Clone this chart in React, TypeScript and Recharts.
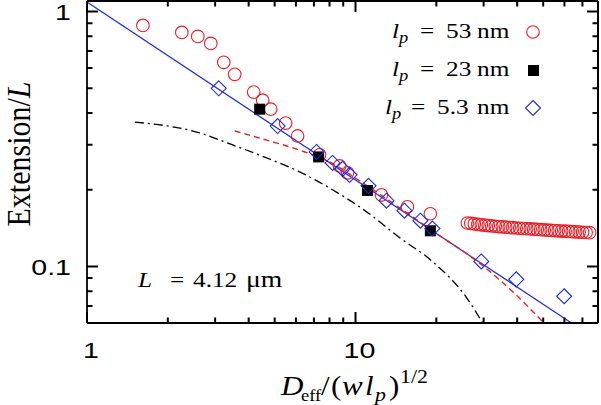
import { ComposedChart, Scatter, Line, XAxis, YAxis, ReferenceLine } from "recharts"

const SERIF = "'Liberation Serif', 'Times New Roman', serif"
const SANS = "'Liberation Sans', Arial, sans-serif"
const RED = "#ec1c24"
const BLUE = "#1d2ae0"
const INK = "#000"

const CHART_W = 601
const CHART_H = 405
const LEFT_W = 87
const RIGHT_W = 3
const BOTTOM_H = 82
const TOP_H = 1
const PLOT_W = CHART_W - LEFT_W - RIGHT_W
const PLOT_H = CHART_H - BOTTOM_H - TOP_H

const xTicks = [1, 2, 3, 4, 5, 6, 7, 8, 9, 10, 20, 30, 40, 50, 60, 70]
const yTicks = [0.07, 0.08, 0.09, 0.1, 0.2, 0.3, 0.4, 0.5, 0.6, 0.7, 0.8, 0.9, 1]
const xMajor = [1, 10]
const yMajor = [0.1, 1]

// l_p = 53 nm (open circles)
const x53 = [
  1.615, 2.255, 2.586, 2.891, 3.231, 3.549, 4.176, 4.511, 4.831, 5.493, 6.086, 7.348, 8.721, 9.338, 12.49, 15.61, 19.0,
  26.09, 26.88, 27.7, 28.54, 29.41, 30.3, 31.22, 32.17, 33.15, 34.16, 35.2, 36.27, 37.37, 38.51, 39.68, 40.89, 42.13,
  43.41, 44.73, 46.09, 47.5, 48.94, 50.43, 51.96, 53.55, 55.17, 56.85, 58.58, 60.36, 62.2, 64.09, 66.04, 68.05, 70.12,
  72.25, 74.45,
]
const y53 = [
  0.882, 0.828, 0.799, 0.75, 0.632, 0.567, 0.483, 0.449, 0.414, 0.365, 0.325, 0.274, 0.248, 0.233, 0.191, 0.1715, 0.161,
  0.1481, 0.1475, 0.1468, 0.1462, 0.1457, 0.1452, 0.1447, 0.1442, 0.1438, 0.1434, 0.143, 0.1426, 0.1422, 0.1419, 0.1415,
  0.1412, 0.1409, 0.1406, 0.1403, 0.14, 0.1397, 0.1394, 0.1391, 0.1388, 0.1385, 0.1383, 0.138, 0.1377, 0.1375, 0.1372,
  0.1369, 0.1367, 0.1364, 0.1362, 0.1359, 0.1357,
]

// l_p = 23 nm (filled squares)
const x23 = [4.396, 7.29, 11.08, 19.0]
const y23 = [0.414, 0.269, 0.1986, 0.138]

// l_p = 5.3 nm (open diamonds)
const x5 = [3.095, 5.129, 7.161, 8.213, 8.948, 9.499, 11.18, 13.04, 15.21, 17.44, 19.33, 29.4, 39.68, 59.84]
const y5 = [0.5, 0.3554, 0.2813, 0.2548, 0.2414, 0.2287, 0.2072, 0.1811, 0.1655, 0.1512, 0.1408, 0.1046, 0.089, 0.0764]

// power law fit (blue)
const fitX = [1, 63.7]
const fitY = [1.09, 0.06]

// red dashed curve
const dashX = [3.549, 4.669, 6.191, 8.006, 10.35, 14.58, 19.33, 29.4, 38.34, 49.57]
const dashY = [0.34, 0.313, 0.286, 0.2572, 0.2168, 0.17, 0.138, 0.1018, 0.0799, 0.061]

// black dash-dot curve
const ddX = [1.508, 2.631, 3.489, 4.669, 6.191, 8.213, 10.99, 14.58, 19.33, 25.86, 29.65]
const ddY = [0.3685, 0.3339, 0.2996, 0.2666, 0.235, 0.1999, 0.164, 0.1298, 0.1046, 0.0757, 0.0604]

const zip = (xs: number[], ys: number[]) => xs.map((x, i) => ({ x, y: ys[i] }))

const d53 = zip(x53, y53)
const d23 = zip(x23, y23)
const d5 = zip(x5, y5)
const dFit = zip(fitX, fitY)
const dDash = zip(dashX, dashY)
const dDD = zip(ddX, ddY)

const X_DOMAIN: [number, number] = [1, 80]
const Y_DOMAIN: [number, number] = [0.06, 1.1]

const Ring = (p: any) => <circle cx={p.cx} cy={p.cy} r={6.3} fill="none" stroke={RED} strokeWidth={1.1} />
const Box = (p: any) => <rect x={p.cx - 5.5} y={p.cy - 5.5} width={11} height={11} fill="#000" />
const Diamond = (p: any) => (
  <path
    d={`M${p.cx},${p.cy - 7.5}L${p.cx + 7.5},${p.cy}L${p.cx},${p.cy + 7.5}L${p.cx - 7.5},${p.cy}Z`}
    fill="none"
    stroke={BLUE}
    strokeWidth={1.1}
  />
)
const Nothing = () => <g />

// gnuplot style: ticks point inward and are mirrored on the opposite side of the frame
const BottomTick = (props: any) => {
  const { x, y, payload } = props
  const major = xMajor.includes(payload.value)
  const len = major ? 11 : 5.5
  const top = y - PLOT_H
  return (
    <g>
      <path d={`M${x},${y}V${y - len}M${x},${top}V${top + len}`} stroke={INK} strokeWidth={2} fill="none" />
      {major && (
        <text
          transform={`translate(${x + 4},${y + 35}) scale(1.3,1)`}
          textAnchor="middle"
          fontFamily={SANS}
          fontSize={22}
          fill="#000"
        >
          {String(payload.value)}
        </text>
      )}
    </g>
  )
}

const LeftTick = (props: any) => {
  const { x, y, payload } = props
  const major = yMajor.includes(payload.value)
  const len = major ? 11 : 5.5
  const right = x + PLOT_W
  return (
    <g>
      <path d={`M${x},${y}H${x + len}M${right},${y}H${right - len}`} stroke={INK} strokeWidth={2} fill="none" />
      {major && (
        <text
          transform={`translate(${x - 16},${y + 8.5}) scale(1.3,1)`}
          textAnchor="end"
          fontFamily={SANS}
          fontSize={22}
          fill="#000"
        >
          {String(payload.value)}
        </text>
      )}
    </g>
  )
}

// stretched serif text, close to the LaTeX look of the original
function T({ x, y, size, it, anchor, children }: any) {
  return (
    <text
      transform={`translate(${x},${y}) scale(1.15,1)`}
      fontFamily={SERIF}
      fontSize={size}
      fontStyle={it ? "italic" : "normal"}
      textAnchor={anchor || "start"}
      fill="#000"
    >
      {children}
    </text>
  )
}

function LegendRow({ y, value, xl, xeq, xnum }: any) {
  return (
    <g>
      <T x={xl} y={y} size={22} it>l</T>
      <T x={xl + 7} y={y + 5} size={16} it>p</T>
      <T x={xeq} y={y} size={22} anchor="middle">=</T>
      <T x={xnum} y={y} size={22}>{value}</T>
      <T x={477} y={y} size={22}>nm</T>
    </g>
  )
}

export default function App() {
  const axisLine = { stroke: INK, strokeWidth: 1.8 }
  const tickLine = { stroke: INK, strokeWidth: 1.7 }
  const common = {
    type: "number" as const,
    scale: "log" as const,
    allowDataOverflow: true,
    interval: 0 as const,
    tickSize: 0,
    tickMargin: 0,
    stroke: INK,
  }
  return (
    <div style={{ position: "absolute", left: 0, top: 0, width: CHART_W, height: CHART_H, background: "#fff" }}>
      <ComposedChart width={CHART_W} height={CHART_H} margin={{ top: 0, right: 0, bottom: 0, left: 0 }}>
        <XAxis xAxisId="b" dataKey="x" domain={X_DOMAIN} ticks={xTicks} height={BOTTOM_H} tick={BottomTick} tickLine={tickLine} axisLine={axisLine} {...common} />
        <XAxis xAxisId="t" orientation="top" dataKey="x" domain={X_DOMAIN} ticks={xMajor} height={TOP_H} tick={false} tickLine={tickLine} axisLine={axisLine} {...common} />
        <YAxis yAxisId="l" dataKey="y" domain={Y_DOMAIN} ticks={yTicks} width={LEFT_W} tick={LeftTick} tickLine={tickLine} axisLine={axisLine} {...common} />
        <YAxis yAxisId="r" orientation="right" dataKey="y" domain={Y_DOMAIN} ticks={yMajor} width={RIGHT_W} tick={false} tickLine={tickLine} axisLine={axisLine} {...common} />

        {/* invisible series that keeps the top/right frame axes alive */}
        <Scatter xAxisId="t" yAxisId="r" data={d5} shape={Nothing} isAnimationActive={false} />

        {/* closing edges of the plot frame */}
        <ReferenceLine xAxisId="b" yAxisId="l" y={Y_DOMAIN[1]} stroke={INK} strokeWidth={1.8} />
        <ReferenceLine xAxisId="b" yAxisId="l" x={X_DOMAIN[1]} stroke={INK} strokeWidth={1.8} />

        <Scatter xAxisId="b" yAxisId="l" data={d53} shape={Ring} isAnimationActive={false} />
        <Scatter xAxisId="b" yAxisId="l" data={d23} shape={Box} isAnimationActive={false} />
        <Scatter xAxisId="b" yAxisId="l" data={d5} shape={Diamond} isAnimationActive={false} />
        <Line xAxisId="b" yAxisId="l" data={dFit} dataKey="y" type="linear" stroke={BLUE} strokeWidth={1.2} dot={false} isAnimationActive={false} />
        <Line xAxisId="b" yAxisId="l" data={dDash} dataKey="y" type="monotone" stroke={RED} strokeWidth={1.4} strokeDasharray="6 4" dot={false} isAnimationActive={false} />
        <Line xAxisId="b" yAxisId="l" data={dDD} dataKey="y" type="monotone" stroke="#000" strokeWidth={1.3} strokeDasharray="9 4 2 4" dot={false} isAnimationActive={false} />
      </ComposedChart>
      <svg width={CHART_W} height={CHART_H} style={{ position: "absolute", left: 0, top: 0, pointerEvents: "none" }}>
        <LegendRow y={38} value="53" xl={392} xeq={427} xnum={446} />
        <LegendRow y={76} value="23" xl={392} xeq={427} xnum={446} />
        <LegendRow y={114} value="5.3" xl={385} xeq={418} xnum={437} />
        <circle cx={533} cy={32} r={6.3} fill="none" stroke={RED} strokeWidth={1.1} />
        <rect x={528} y={65} width={11} height={11} fill="#000" />
        <path d="M533,100.5L540.5,108L533,115.5L525.5,108Z" fill="none" stroke={BLUE} strokeWidth={1.1} />

        <T x={138} y={287} size={22} it>L</T>
        <T x={177} y={287} size={22} anchor="middle">=</T>
        <T x={193} y={287} size={22}>4.12</T>
        <T x={246} y={287} size={24}>μm</T>

        <T x={281} y={395} size={27} it>D</T>
        <T x={301} y={401} size={16}>eff</T>
        <T x={321} y={395} size={27}>/</T>
        <T x={331} y={395} size={27}>(</T>
        <T x={342} y={395} size={27} it>w</T>
        <T x={365} y={395} size={27} it>l</T>
        <T x={375} y={401} size={19} it>p</T>
        <T x={389} y={395} size={27}>)</T>
        <T x={400} y={383} size={19}>1/2</T>

        <text transform="translate(30,154) rotate(-90) scale(1,1.15)" fontFamily={SERIF} fontSize={30} textAnchor="middle" fill="#000">
          Extension/<tspan fontStyle="italic">L</tspan>
        </text>
      </svg>
    </div>
  )
}
